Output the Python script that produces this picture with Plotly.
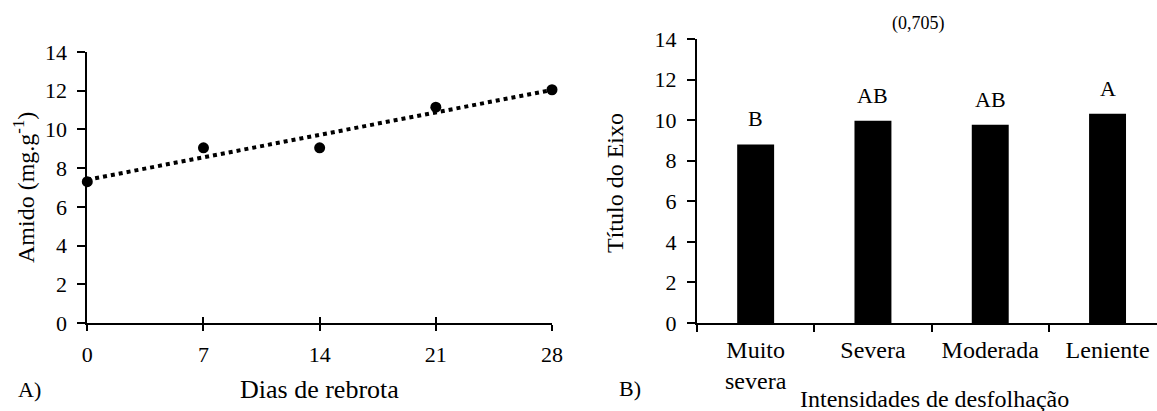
import numpy as np
import plotly.graph_objects as go

# ---------------- data ----------------
dias = [0, 7, 14, 21, 28]
amido = [7.3, 9.05, 9.05, 11.15, 12.05]
dias_ticks = [0, 7, 14, 21, 28]

categorias = ["Muito<br>severa", "Severa", "Moderada", "Leniente"]
valores = [8.8, 9.97, 9.77, 10.31]
letras = ["B", "AB", "AB", "A"]

y_ticks = [0, 2, 4, 6, 8, 10, 12, 14]

# ---------------- layout helpers ----------------
W, H = 1157, 411
FONT = "Liberation Serif"


def px(x):
    return x / W


def py(y):
    return 1 - y / H


# trend line (least squares)
slope, intercept = np.polyfit(dias, amido, 1)
trend_x = [min(dias), max(dias)]
trend_y = [intercept + slope * v for v in trend_x]

fig = go.Figure()

fig.add_trace(go.Scatter(
    x=trend_x, y=trend_y, mode="lines",
    line=dict(color="black", width=4, dash="4px,4px"),
    xaxis="x", yaxis="y", showlegend=False, hoverinfo="skip", cliponaxis=False))
fig.add_trace(go.Scatter(
    x=dias, y=amido, mode="markers",
    marker=dict(color="black", size=11),
    xaxis="x", yaxis="y", showlegend=False, cliponaxis=False))

# helper traces so the boundary-tick axes exist
fig.add_trace(go.Scatter(x=[0], y=[None], xaxis="x2", yaxis="y2",
                         mode="markers", showlegend=False, hoverinfo="skip"))
fig.add_trace(go.Scatter(x=dias, y=[None] * len(dias), xaxis="x3", yaxis="y",
                         mode="markers", showlegend=False, hoverinfo="skip"))

fig.add_trace(go.Bar(
    x=categorias, y=valores, width=0.315,
    marker=dict(color="black", line=dict(width=0)),
    xaxis="x4", yaxis="y2", showlegend=False))

tickfont = dict(family=FONT, size=22, color="black")
base = dict(showgrid=False, zeroline=False, automargin=False)
axis_common = dict(showline=True, linecolor="black", linewidth=2, ticks="outside",
                   tickcolor="black", tickwidth=2, **base)

xr2 = [-0.5, -0.5 + 460 / 117.3]

fig.update_layout(
    width=W, height=H,
    margin=dict(l=0, r=0, t=0, b=0, autoexpand=False),
    paper_bgcolor="white", plot_bgcolor="white",
    font=dict(family=FONT, color="black"),
    xaxis=dict(domain=[px(87.3), px(552)], range=[0, 28], tickvals=dias_ticks,
               ticklen=6, anchor="y", ticklabelstandoff=5, tickfont=tickfont, **axis_common),
    xaxis3=dict(domain=[px(87.3), px(552)], range=[0, 28], tickvals=dias_ticks,
                overlaying="x", anchor="y", side="bottom", ticks="inside", ticklen=6,
                tickwidth=2, tickcolor="black", showticklabels=False, showline=False, **base),
    yaxis=dict(domain=[py(323), py(52)], range=[0, 14], tickvals=y_ticks,
               ticklen=8, anchor="x", ticklabelstandoff=6, tickfont=tickfont, **axis_common),
    xaxis2=dict(domain=[px(697), 1.0], range=xr2, type="linear", ticklen=7, anchor="y2",
                tickmode="array", tickvals=[-0.5, 0.5, 1.5, 2.5], showticklabels=False,
                **axis_common),
    xaxis4=dict(domain=[px(697), 1.0], range=xr2, type="category", overlaying="x2",
                anchor="y2", side="bottom", showline=False, ticks="",
                tickmode="array", tickvals=categorias, ticktext=categorias,
                ticklabelstandoff=10, tickfont=dict(family=FONT, size=24, color="black"), **base),
    yaxis2=dict(domain=[py(323), py(39)], range=[0, 14], tickvals=y_ticks,
                ticklen=8, anchor="x2", ticklabelstandoff=6, tickfont=tickfont, **axis_common),
)

ann = []
for i, (v, l) in enumerate(zip(valores, letras)):
    ann.append(dict(x=categorias[i], y=v, xref="x4", yref="y2", text=l, showarrow=False,
                    yanchor="bottom", yshift=11, font=dict(family=FONT, size=22, color="black")))


def txt(text, x, y, size, angle=0):
    ann.append(dict(x=px(x), y=py(y), xref="paper", yref="paper", text=text, showarrow=False,
                    xanchor="center", yanchor="middle", textangle=angle,
                    font=dict(family=FONT, size=size, color="black")))


txt("Amido (mg.g<sup>-1</sup>)", 24, 188, 24, -90)
txt("Dias de rebrota", 319, 389, 26)
txt("A)", 29, 389, 22)
txt("Título do Eixo", 615, 183, 24, -90)
txt("(0,705)", 918, 23, 18)
txt("B)", 630, 388, 22)
txt("Intensidades de desfolhação", 934, 399, 24)

fig.update_layout(annotations=ann)
fig.write_html("out.html")
